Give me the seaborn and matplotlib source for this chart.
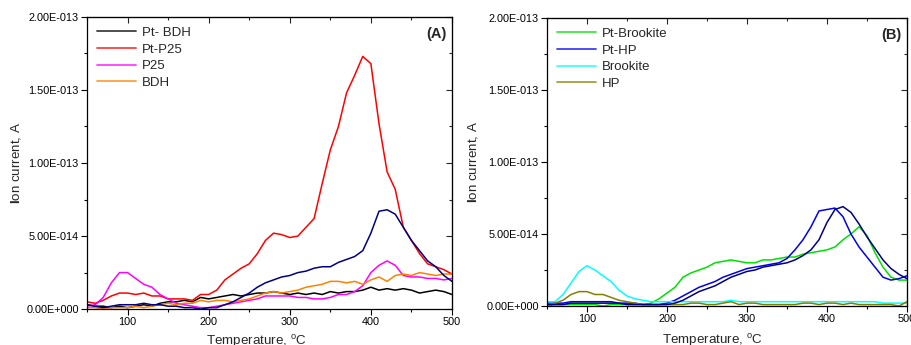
import numpy as np
import pandas as pd
import matplotlib
matplotlib.use("Agg")
import matplotlib.pyplot as plt
import seaborn as sns
from matplotlib.ticker import MultipleLocator, FuncFormatter

sns.set_style("ticks")
plt.rcParams['font.family'] = ['Liberation Sans', 'DejaVu Sans']
plt.rcParams['mathtext.fontset'] = 'custom'
plt.rcParams['mathtext.rm'] = 'Liberation Sans'
plt.rcParams['mathtext.bf'] = 'Liberation Sans:bold'

# temperature grid, degC
temp = [50, 60, 70, 80, 90, 100, 110, 120, 130, 140, 150, 160, 170, 180, 190, 200,
        210, 220, 230, 240, 250, 260, 270, 280, 290, 300, 310, 320, 330, 340, 350,
        360, 370, 380, 390, 400, 410, 420, 430, 440, 450, 460, 470, 480, 490, 500]

# panel A, ion current in 1e-14 A
pt_bdh = [0.3, 0.2, 0.2, 0.1, 0.2, 0.1, 0.2, 0.3, 0.2, 0.4, 0.5, 0.5, 0.6, 0.5, 0.8, 0.7,
          0.8, 0.9, 1.0, 0.9, 1.0, 1.1, 1.1, 1.2, 1.1, 1.0, 1.1, 1.0, 1.1, 1.0, 1.2,
          1.1, 1.2, 1.2, 1.3, 1.5, 1.3, 1.4, 1.3, 1.4, 1.3, 1.1, 1.2, 1.3, 1.2, 1.0]
pt_p25 = [0.5, 0.4, 0.6, 0.9, 1.1, 1.1, 1.0, 1.1, 0.9, 0.9, 0.7, 0.7, 0.7, 0.6, 1.0, 1.0,
          1.3, 2.0, 2.4, 2.8, 3.1, 3.8, 4.7, 5.2, 5.1, 4.9, 5.0, 5.6, 6.2, 8.6, 10.9,
          12.5, 14.8, 16.0, 17.3, 16.8, 12.7, 9.4, 8.2, 5.6, 4.7, 3.8, 3.1, 2.9, 2.7, 2.4]
p25 = [0.2, 0.3, 0.8, 1.8, 2.5, 2.5, 2.1, 1.7, 1.5, 1.0, 0.7, 0.4, 0.3, 0.2, 0.1, 0.1,
       0.2, 0.3, 0.4, 0.5, 0.6, 0.7, 0.9, 0.9, 0.9, 0.9, 0.8, 0.8, 0.7, 0.7, 0.8,
       1.0, 1.0, 1.2, 1.6, 2.5, 3.0, 3.3, 3.0, 2.3, 2.2, 2.2, 2.1, 2.1, 2.0, 2.1]
bdh = [0.1, 0.1, 0.0, 0.1, 0.1, 0.1, 0.2, 0.1, 0.2, 0.3, 0.4, 0.3, 0.4, 0.4, 0.6, 0.5,
       0.6, 0.6, 0.5, 0.6, 0.7, 0.9, 1.1, 1.2, 1.1, 1.2, 1.3, 1.5, 1.6, 1.7, 1.9,
       1.9, 1.8, 1.9, 1.7, 2.0, 2.2, 1.9, 2.3, 2.4, 2.3, 2.5, 2.4, 2.3, 2.4, 2.4]
navy_a = [0.3, 0.2, 0.1, 0.2, 0.3, 0.3, 0.3, 0.4, 0.3, 0.3, 0.2, 0.2, 0.1, 0.1, 0.0, 0.1,
          0.1, 0.3, 0.5, 0.8, 1.1, 1.5, 1.8, 2.0, 2.2, 2.3, 2.5, 2.6, 2.8, 2.9, 2.9,
          3.2, 3.4, 3.6, 4.0, 5.2, 6.7, 6.8, 6.5, 5.6, 4.7, 4.0, 3.3, 2.9, 2.3, 1.9]

# panel B, ion current in 1e-14 A
pt_brookite = [0.0, 0.1, 0.1, 0.1, 0.1, 0.1, 0.1, 0.0, 0.1, 0.1, 0.1, 0.1, 0.1, 0.2, 0.5, 0.9,
               1.3, 2.0, 2.3, 2.5, 2.7, 3.0, 3.1, 3.2, 3.1, 3.0, 3.0, 3.2, 3.2, 3.3, 3.4,
               3.4, 3.6, 3.7, 3.8, 3.9, 4.1, 4.6, 5.0, 5.5, 4.9, 3.7, 2.7, 2.0, 1.8, 1.8]
pt_hp = [0.2, 0.2, 0.2, 0.3, 0.3, 0.3, 0.3, 0.3, 0.3, 0.2, 0.2, 0.2, 0.1, 0.1, 0.1, 0.2,
         0.4, 0.7, 1.0, 1.3, 1.5, 1.7, 2.0, 2.2, 2.4, 2.6, 2.7, 2.8, 2.9, 3.0, 3.3,
         3.9, 4.6, 5.5, 6.6, 6.7, 6.8, 6.2, 5.0, 4.1, 3.4, 2.7, 2.0, 1.8, 1.9, 2.1]
brookite = [0.3, 0.3, 0.8, 1.6, 2.4, 2.8, 2.5, 2.1, 1.7, 1.1, 0.7, 0.5, 0.4, 0.3, 0.3, 0.3,
            0.3, 0.3, 0.3, 0.3, 0.3, 0.3, 0.3, 0.4, 0.3, 0.3, 0.3, 0.3, 0.3, 0.3, 0.3,
            0.3, 0.3, 0.3, 0.3, 0.3, 0.3, 0.3, 0.3, 0.3, 0.3, 0.3, 0.2, 0.2, 0.2, 0.2]
hp = [0.1, 0.2, 0.4, 0.8, 1.0, 1.0, 0.8, 0.8, 0.6, 0.4, 0.3, 0.2, 0.1, 0.1, 0.1, 0.1,
      0.1, 0.1, 0.2, 0.2, 0.1, 0.1, 0.2, 0.3, 0.1, 0.2, 0.2, 0.1, 0.1, 0.1, 0.1,
      0.1, 0.2, 0.2, 0.1, 0.2, 0.2, 0.1, 0.2, 0.1, 0.1, 0.1, 0.1, 0.1, 0.0, 0.3]
navy_b = [0.1, 0.1, 0.1, 0.2, 0.2, 0.2, 0.2, 0.2, 0.2, 0.2, 0.1, 0.1, 0.1, 0.1, 0.1, 0.1,
          0.2, 0.4, 0.7, 1.0, 1.2, 1.4, 1.7, 2.0, 2.2, 2.4, 2.5, 2.7, 2.8, 2.9, 3.0,
          3.2, 3.5, 3.9, 4.6, 5.8, 6.7, 6.9, 6.5, 5.7, 4.8, 4.0, 3.2, 2.6, 2.2, 1.9]

scale = 1e-14


def sci_fmt(v, pos):
    if v == 0:
        return "0.00E+000"
    e = int(np.floor(np.log10(abs(v)) + 1e-9))
    m = v / 10 ** e
    return "{:.2f}E{}{:03d}".format(m, "+" if e >= 0 else "-", abs(e))


fig = plt.figure(figsize=(9.12, 3.45), dpi=100)
axA = fig.add_axes([0.0954, 0.104, 0.4002, 0.847])
axB = fig.add_axes([0.5998, 0.113, 0.3947, 0.835])

seriesA = [(pt_bdh, 'black', 'Pt- BDH'), (pt_p25, '#ff0000', 'Pt-P25'),
           (p25, '#ff00ff', 'P25'), (bdh, '#ff8000', 'BDH'), (navy_a, '#000080', None)]
seriesB = [(pt_brookite, '#00e000', 'Pt-Brookite'), (pt_hp, '#0000ee', 'Pt-HP'),
           (brookite, '#00ffff', 'Brookite'), (hp, '#808000', 'HP'), (navy_b, '#000080', None)]

layout = [(axA, seriesA, '(A)', -0.175, 0.463, -0.082),
          (axB, seriesB, '(B)', -0.185, 0.458, -0.09)]
for ax, series, tag, ylx, xlx, xly in layout:
    for vals, col, lab in series:
        sns.lineplot(x=temp, y=np.array(vals) * scale, color=col, label=lab,
                     linewidth=1.1, ax=ax, legend=False)
    handles = [plt.Line2D([], [], color=c, lw=1.3, alpha=0.75) for _, c, l in series if l]
    labels = [l for _, c, l in series if l]
    ax.legend(handles, labels, loc='upper left', frameon=False, fontsize=9.5,
              handlelength=3.0, handletextpad=0.4, labelspacing=0.33,
              borderaxespad=0.35)
    ax.text(0.985, 0.965, tag, transform=ax.transAxes, ha='right', va='top',
            fontsize=10.5, fontweight='bold')
    ax.set_xlim(50, 500)
    ax.set_ylim(0, 2e-13)
    ax.xaxis.set_major_locator(MultipleLocator(100))
    ax.xaxis.set_minor_locator(MultipleLocator(50))
    ax.yaxis.set_major_locator(MultipleLocator(5e-14))
    ax.yaxis.set_minor_locator(MultipleLocator(2.5e-14))
    ax.yaxis.set_major_formatter(FuncFormatter(sci_fmt))
    ax.tick_params(which='both', direction='out', labelsize=7.8, width=0.8,
                   colors='black', pad=2)
    ax.tick_params(which='major', length=4)
    ax.tick_params(which='minor', length=2.5)
    for sp in ax.spines.values():
        sp.set_linewidth(0.9)
        sp.set_color('black')
    # mirrored ticks pointing inward on top and right
    sec_x = ax.secondary_xaxis('top')
    sec_x.xaxis.set_major_locator(MultipleLocator(100))
    sec_x.xaxis.set_minor_locator(MultipleLocator(50))
    sec_x.tick_params(which='both', direction='in', labeltop=False, width=0.8)
    sec_x.tick_params(which='major', length=4)
    sec_x.tick_params(which='minor', length=2.5)
    sec_y = ax.secondary_yaxis('right')
    sec_y.yaxis.set_major_locator(MultipleLocator(5e-14))
    sec_y.yaxis.set_minor_locator(MultipleLocator(2.5e-14))
    sec_y.tick_params(which='both', direction='in', labelright=False, width=0.8)
    sec_y.tick_params(which='major', length=4)
    sec_y.tick_params(which='minor', length=2.5)
    ax.set_xlabel('Temperature, $^{\\mathrm{o}}$C', fontsize=9.6)
    ax.set_ylabel('$\\mathbf{I}$on current, A', fontsize=9.6)
    ax.yaxis.set_label_coords(ylx, 0.5)
    ax.xaxis.set_label_coords(xlx, xly)

fig.savefig('out.png', dpi=100)
